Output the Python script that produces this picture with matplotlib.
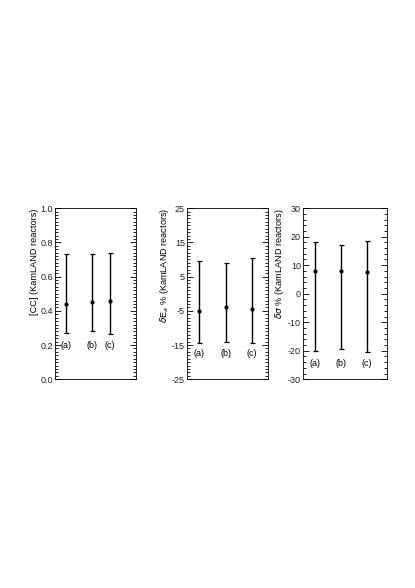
import matplotlib.pyplot as plt
from matplotlib.ticker import MultipleLocator, FormatStrFormatter

plt.rcParams['font.family'] = ['Liberation Sans', 'DejaVu Sans']

labels = ['(a)', '(b)', '(c)']

cc_val = [0.44, 0.45, 0.46]
cc_lo = [0.27, 0.28, 0.265]
cc_hi = [0.73, 0.73, 0.74]

ea_val = [-5.0, -4.0, -4.5]
ea_lo = [-14.5, -14.0, -14.5]
ea_hi = [9.5, 9.0, 10.5]

sig_val = [8.0, 8.0, 7.5]
sig_lo = [-20.0, -19.5, -20.5]
sig_hi = [18.0, 17.0, 18.5]

fig = plt.figure(figsize=(4.15, 5.88), dpi=100)

panels = [
    dict(rect=[0.1325, 0.355, 0.195, 0.291], val=cc_val, lo=cc_lo, hi=cc_hi,
         ylim=(0.0, 1.0), major=0.2, minor=0.02, fmt='%.1f', lab_y=0.2,
         ylabel='[CC] (KamLAND reactors)', xpos=[0.135, 0.46, 0.68]),
    dict(rect=[0.4506, 0.355, 0.195, 0.291], val=ea_val, lo=ea_lo, hi=ea_hi,
         ylim=(-25, 25), major=10, minor=1, fmt='%d', lab_y=-17.5,
         ylabel=r'$\delta$E$_a$ % (KamLAND reactors)', xpos=[0.15, 0.48, 0.80]),
    dict(rect=[0.730, 0.355, 0.202, 0.291], val=sig_val, lo=sig_lo, hi=sig_hi,
         ylim=(-30, 30), major=10, minor=2, fmt='%d', lab_y=-24.5,
         ylabel=r'$\delta\sigma$ % (KamLAND reactors)', xpos=[0.14, 0.45, 0.76]),
]

for p in panels:
    ax = fig.add_axes(p['rect'])
    yerr = [[v - l for v, l in zip(p['val'], p['lo'])],
            [h - v for v, h in zip(p['val'], p['hi'])]]
    ax.errorbar(p['xpos'], p['val'], yerr=yerr, fmt='o', color='black',
                ms=2.0, lw=1.0, capsize=1.8, capthick=0.9)
    for x, t in zip(p['xpos'], labels):
        ax.text(x, p['lab_y'], t, ha='center', va='center', fontsize=6.5)
    ax.set_xlim(0, 1)
    ax.set_ylim(*p['ylim'])
    ax.set_xticks([])
    lo_t, hi_t = p['ylim']
    ticks = []
    t = lo_t
    while t <= hi_t + 1e-9:
        ticks.append(round(t, 6))
        t += p['major']
    ax.set_yticks(ticks)
    ax.yaxis.set_minor_locator(MultipleLocator(p['minor']))
    ax.yaxis.set_major_formatter(FormatStrFormatter(p['fmt']))
    ax.tick_params(axis='y', which='both', direction='in', left=True, right=True,
                   labelsize=6.5, pad=1.5, width=0.6, labelcolor='#222222')
    ax.tick_params(axis='y', which='major', length=4)
    ax.tick_params(axis='y', which='minor', length=2)
    for s in ax.spines.values():
        s.set_linewidth(0.6)
    ax.set_ylabel(p['ylabel'], fontsize=6.6, labelpad=1, loc='top')

fig.savefig('out.png', dpi=100)
